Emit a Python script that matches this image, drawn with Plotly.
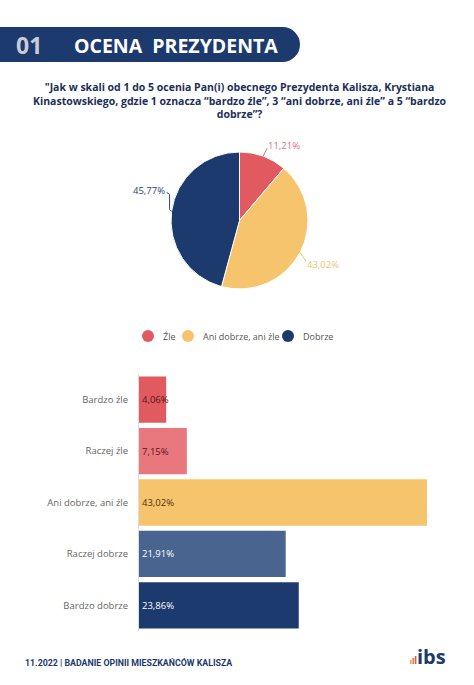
import math
import plotly.graph_objects as go

W, H = 474, 685

# ---- data ----
pie_labels = ["Źle", "Ani dobrze, ani źle", "Dobrze"]
pie_values = [11.21, 43.02, 45.77]
pie_colors = ["#E05A60", "#F7C46E", "#1D3A6E"]
pie_text_colors = ["#D9707A", "#F0C46E", "#2C4676"]

bar_categories = ["Bardzo źle", "Raczej źle", "Ani dobrze, ani źle", "Raczej dobrze", "Bardzo dobrze"]
bar_values = [4.06, 7.15, 43.02, 21.91, 23.86]
bar_colors = ["#E05A60", "#E8787D", "#F7C46E", "#4A6490", "#1D3A6E"]
bar_text_colors = ["#5A1414", "#5A1414", "#4A3308", "#FFFFFF", "#FFFFFF"]

title_num = "01"
title_text = "OCENA  PREZYDENTA"
question = ("\"Jak w skali od 1 do 5 ocenia Pan(i) obecnego Prezydenta Kalisza, Krystiana<br>"
            "Kinastowskiego, gdzie 1 oznacza “bardzo źle”, 3 “ani dobrze, ani źle” a 5 “bardzo<br>"
            "dobrze”?")
footer = "11.2022 | BADANIE OPINII MIESZKAŃCÓW KALISZA"

NAVY = "#1D3A6E"


def px(x):
    return x / W


def py(y):
    return 1 - y / H


def fmt(v):
    return f"{v:.2f}".replace(".", ",") + "%"


# pie geometry (pixels)
PCX, PCY, PR = 239.5, 220.5, 68.5

fig = go.Figure()

fig.add_trace(go.Pie(
    labels=pie_labels, values=pie_values, sort=False, direction="clockwise", rotation=0,
    marker=dict(colors=pie_colors, line=dict(color="white", width=1)),
    textinfo="none",
    domain=dict(x=[px(PCX - PR), px(PCX + PR)], y=[py(PCY + PR), py(PCY - PR)]),
    showlegend=False, hoverinfo="label+percent",
))

fig.add_trace(go.Bar(
    y=bar_categories, x=bar_values, orientation="h",
    marker=dict(color=bar_colors, line=dict(width=0)),
    text=[fmt(v) for v in bar_values], textposition="inside", insidetextanchor="start",
    textangle=0, constraintext="none",
    textfont=dict(color=bar_text_colors, size=9.5, family="Open Sans"),
    showlegend=False,
))

shapes = [
    dict(type="rect", xref="paper", yref="paper", x0=px(0), x1=px(283), y0=py(62), y1=py(27),
         fillcolor=NAVY, line=dict(width=0), layer="below"),
    dict(type="circle", xref="paper", yref="paper", x0=px(265), x1=px(300), y0=py(62), y1=py(27),
         fillcolor=NAVY, line=dict(width=0), layer="below"),
]
annotations = []

# pie outside labels with leader lines, placed from slice mid-angles
total = sum(pie_values)
cum = 0.0
label_offsets = [  # (line path offsets from edge point, text offset, xanchor)
    ([(0, 0), (4, -8)], (3, -11), "left"),
    ([(0, 0), (6, 9)], (5, 12), "left"),
    ([(0, 0), (-2, -2), (-2, -17), (-5, -19)], (-5, -21), "right"),
]
for v, tc, (pts, toff, xa) in zip(pie_values, pie_text_colors, label_offsets):
    mid = (cum + v / 2) / total * 2 * math.pi
    cum += v
    ex = PCX + PR * math.sin(mid)
    ey = PCY - PR * math.cos(mid)
    path = "M " + " L ".join(f"{px(ex + dx):.5f},{py(ey + dy):.5f}" for dx, dy in pts)
    shapes.append(dict(type="path", xref="paper", yref="paper", path=path,
                       line=dict(color=tc, width=1)))
    annotations.append(dict(text=fmt(v), xref="paper", yref="paper",
                            x=px(ex + toff[0]), y=py(ey + toff[1]), xanchor=xa, yanchor="middle",
                            showarrow=False, font=dict(family="Open Sans", size=9.5, color=tc)))

# legend (circles + labels)
legend_x = [148, 188, 288]
for name, col, lx in zip(pie_labels, pie_colors, legend_x):
    shapes.append(dict(type="circle", xref="paper", yref="paper",
                       x0=px(lx - 6), x1=px(lx + 6), y0=py(342), y1=py(330),
                       fillcolor=col, line=dict(width=0)))
    annotations.append(dict(text=name, xref="paper", yref="paper", x=px(lx + 13), y=py(336),
                            xanchor="left", yanchor="middle", showarrow=False,
                            font=dict(family="Open Sans", size=9, color="#555555")))

# tiny logo bars
for i, (hh, c) in enumerate(zip([4, 6, 8], ["#F4A04A", "#EE7A3C", "#E05A40"])):
    shapes.append(dict(type="rect", xref="paper", yref="paper",
                       x0=px(410 + i * 2.4), x1=px(411.6 + i * 2.4), y0=py(664), y1=py(664 - hh),
                       fillcolor=c, line=dict(width=0)))

annotations += [
    dict(text=f"<b>{title_num}</b>", x=px(14), y=py(45), xanchor="left", yanchor="middle",
         font=dict(family="Open Sans", size=23, color="#C9CCD6")),
    dict(text=f"<b>{title_text}</b>", x=px(72), y=py(45), xanchor="left", yanchor="middle",
         font=dict(family="Open Sans", size=19.5, color="white")),
    dict(text=f"<b>{question}</b>", x=px(240), y=py(100), xanchor="center", yanchor="middle",
         align="center", font=dict(family="Open Sans", size=10.5, color="#1C2F5A")),
    dict(text=f"<b>{footer}</b>", x=px(23), y=py(662), xanchor="left", yanchor="middle",
         font=dict(family="Roboto", size=8.8, color=NAVY)),
    dict(text="<b>ibs</b>", x=px(415), y=py(656), xanchor="left", yanchor="middle",
         font=dict(family="Open Sans", size=20, color=NAVY)),
]
for a in annotations[-5:]:
    a.update(xref="paper", yref="paper", showarrow=False)

fig.update_layout(
    width=W, height=H, margin=dict(l=0, r=0, t=0, b=0),
    paper_bgcolor="white", plot_bgcolor="white",
    font=dict(family="Open Sans", color="#555555"),
    shapes=shapes, annotations=annotations,
    bargap=0.1, showlegend=False,
    xaxis=dict(domain=[px(139), px(450)], range=[0, 46.45], showgrid=False, zeroline=False,
               showticklabels=False, showline=False, fixedrange=True),
    yaxis=dict(domain=[py(631), py(374)], autorange="reversed", showgrid=False,
               showline=True, linecolor="#DDDDDD", linewidth=1, ticks="",
               ticklabelstandoff=8, tickfont=dict(size=9.5, color="#666666", family="Open Sans")),
)

fig.write_html("out.html", config={"displayModeBar": False},
               post_script="document.body.style.margin='0px';")
